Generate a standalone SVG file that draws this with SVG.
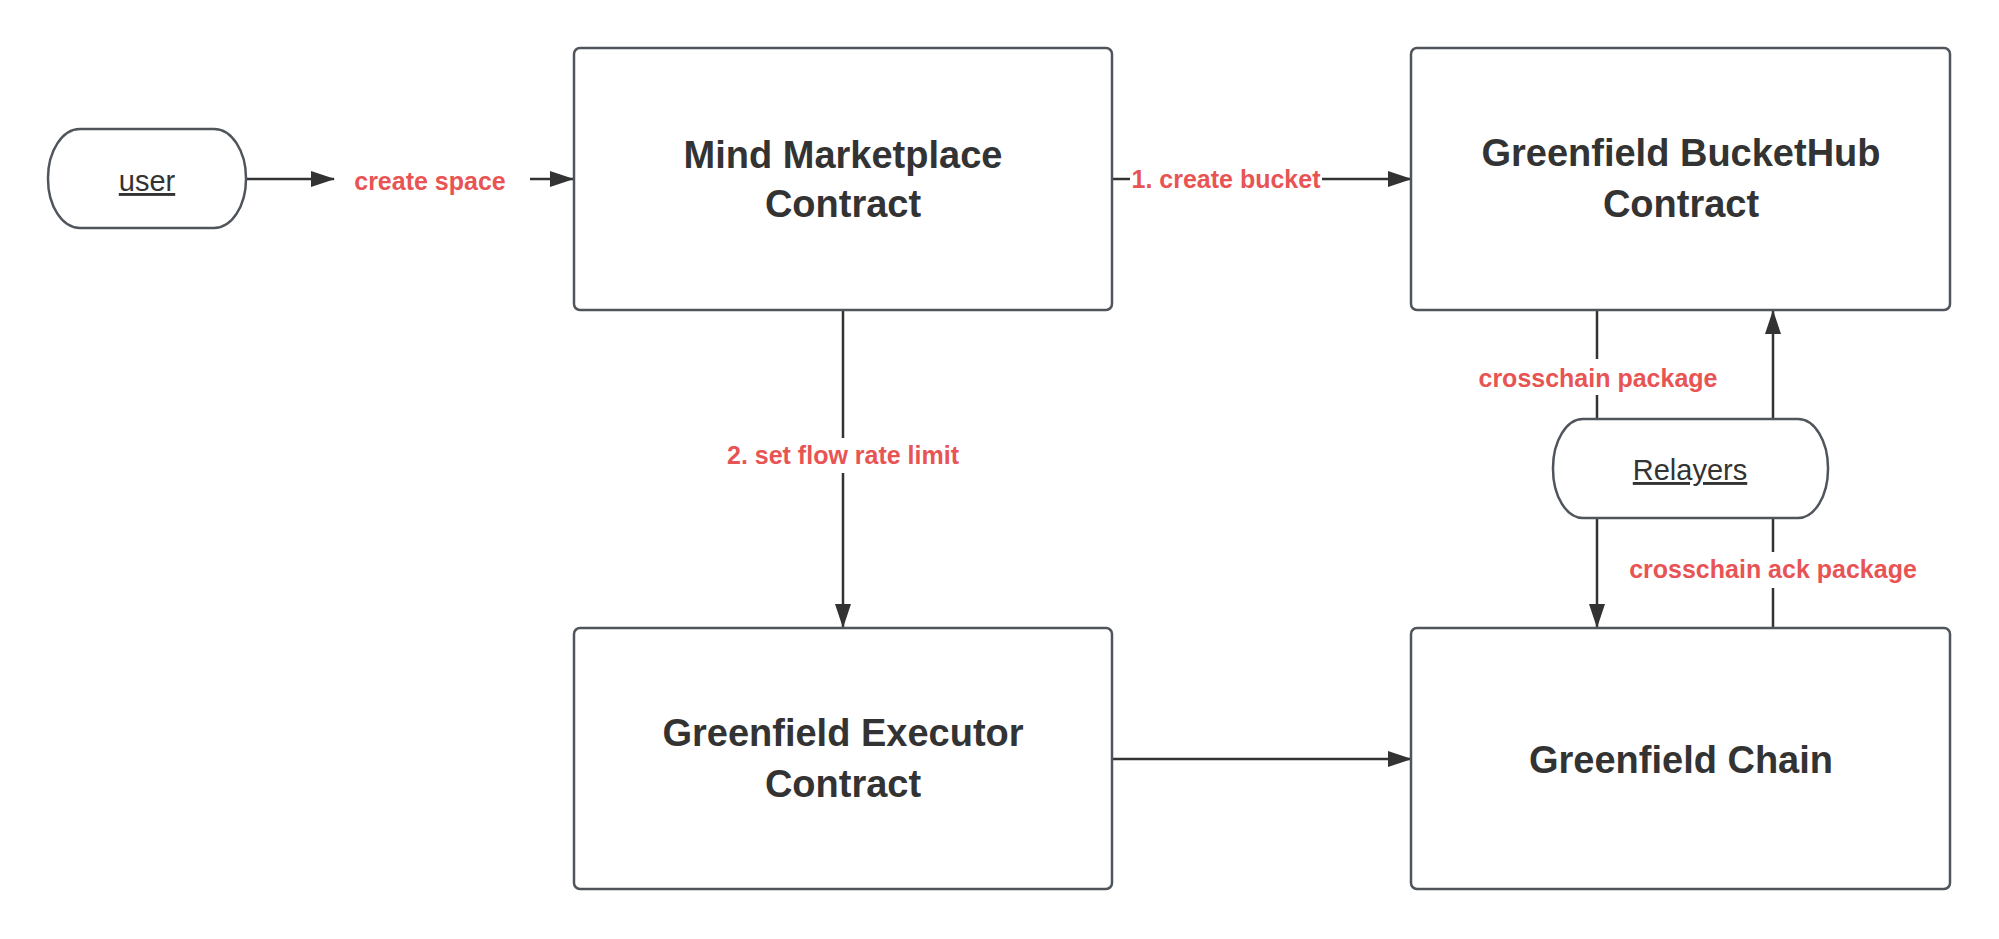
<svg xmlns="http://www.w3.org/2000/svg" width="1999" height="939" viewBox="0 0 1999 939">
  <style>
    .box { fill: #ffffff; stroke: #50555c; stroke-width: 2.5; }
    .title { font-family: "Liberation Sans", Arial, sans-serif; font-weight: bold; font-size: 38px; fill: #333333; text-anchor: middle; }
    .actor { font-family: "Liberation Sans", Arial, sans-serif; font-size: 29px; fill: #333333; text-anchor: middle; text-decoration: underline; }
    .lbl { font-family: "Liberation Sans", Arial, sans-serif; font-weight: bold; font-size: 25px; fill: #e85454; text-anchor: middle; }
    .edge { fill: none; stroke: #333333; stroke-width: 2.5; }
  </style>
  <defs>
    <marker id="arrow" viewBox="0 0 24 16" refX="23" refY="8" markerWidth="24" markerHeight="16" markerUnits="userSpaceOnUse" orient="auto">
      <path d="M0,0 L24,8 L0,16 Z" fill="#333333"/>
    </marker>
  </defs>
  <rect x="0" y="0" width="1999" height="939" fill="#ffffff"/>

  <g id="connectors">
    <!-- user -> create space -> Mind -->
    <line class="edge" x1="246" y1="179" x2="334" y2="179" marker-end="url(#arrow)"/>
    <text class="lbl" x="430" y="190">create space</text>
    <line class="edge" x1="530" y1="179" x2="573" y2="179" marker-end="url(#arrow)"/>

    <!-- Mind -> BucketHub -->
    <line class="edge" x1="1112" y1="179" x2="1130" y2="179"/>
    <text class="lbl" x="1226" y="188">1. create bucket</text>
    <line class="edge" x1="1322" y1="179" x2="1411" y2="179" marker-end="url(#arrow)"/>

    <!-- Mind -> Executor -->
    <line class="edge" x1="843" y1="310" x2="843" y2="438"/>
    <text class="lbl" x="843" y="464">2. set flow rate limit</text>
    <line class="edge" x1="843" y1="473" x2="843" y2="627" marker-end="url(#arrow)"/>

    <!-- Executor -> Chain -->
    <line class="edge" x1="1112" y1="759" x2="1411" y2="759" marker-end="url(#arrow)"/>

    <!-- BucketHub -> Relayers -> Chain -->
    <line class="edge" x1="1597" y1="310" x2="1597" y2="359"/>
    <text class="lbl" x="1598" y="387">crosschain package</text>
    <line class="edge" x1="1597" y1="395" x2="1597" y2="419"/>
    <line class="edge" x1="1597" y1="518" x2="1597" y2="627" marker-end="url(#arrow)"/>

    <!-- Chain -> Relayers -> BucketHub -->
    <line class="edge" x1="1773" y1="628" x2="1773" y2="588"/>
    <text class="lbl" x="1773" y="578">crosschain ack package</text>
    <line class="edge" x1="1773" y1="552" x2="1773" y2="518"/>
    <line class="edge" x1="1773" y1="419" x2="1773" y2="311" marker-end="url(#arrow)"/>
  </g>

  <g id="user">
    <rect class="box" x="48" y="129" width="198" height="99" rx="32" ry="49"/>
    <text class="actor" x="147" y="191">user</text>
  </g>

  <g id="mind-marketplace">
    <rect class="box" x="574" y="48" width="538" height="262" rx="6"/>
    <text class="title" x="843" y="168">Mind Marketplace</text>
    <text class="title" x="843" y="217">Contract</text>
  </g>

  <g id="bucket-hub">
    <rect class="box" x="1411" y="48" width="539" height="262" rx="6"/>
    <text class="title" x="1681" y="166">Greenfield BucketHub</text>
    <text class="title" x="1681" y="217">Contract</text>
  </g>

  <g id="relayers">
    <rect class="box" x="1553" y="419" width="275" height="99" rx="30" ry="49"/>
    <text class="actor" x="1690" y="480">Relayers</text>
  </g>

  <g id="executor">
    <rect class="box" x="574" y="628" width="538" height="261" rx="6"/>
    <text class="title" x="843" y="746">Greenfield Executor</text>
    <text class="title" x="843" y="797">Contract</text>
  </g>

  <g id="greenfield-chain">
    <rect class="box" x="1411" y="628" width="539" height="261" rx="6"/>
    <text class="title" x="1681" y="773">Greenfield Chain</text>
  </g>
</svg>
